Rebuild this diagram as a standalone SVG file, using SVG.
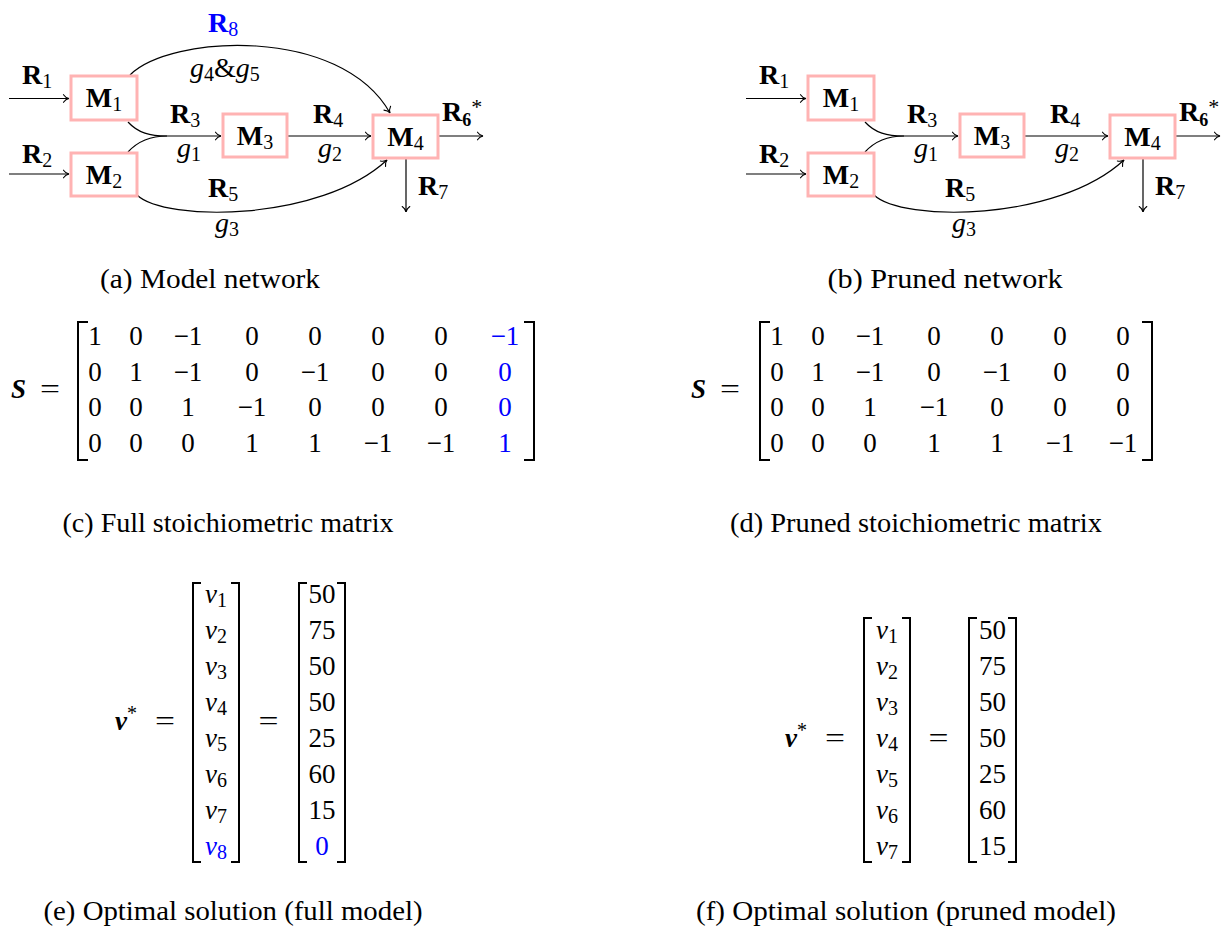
<svg xmlns="http://www.w3.org/2000/svg" width="1225" height="928" viewBox="0 0 1225 928">
<style>
text{font-family:"Liberation Serif","DejaVu Serif",serif;font-size:27px;fill:#000}
.nl{font-size:28px}
.b{font-weight:bold}
.i{font-style:italic}
.bi{font-weight:bold;font-style:italic}
.sub{font-size:20px;font-weight:normal;font-style:normal}
.blue{fill:#0000ff}
.box{fill:#fff;stroke:#ffb3b3;stroke-width:3}
.edge{fill:none;stroke:#000;stroke-width:1.2}
.brk{fill:none;stroke:#000;stroke-width:2}
.m{text-anchor:middle}
</style>
<defs>
<marker id="arr" viewBox="-7 -5 8 10" markerWidth="8" markerHeight="10" refX="0" refY="0" orient="auto" markerUnits="userSpaceOnUse">
<path d="M-5.5,-3.8 C-4,-1.6 -1.5,-0.3 0,0 C-1.5,0.3 -4,1.6 -5.5,3.8" fill="none" stroke="#000" stroke-width="1.1" stroke-linecap="round"/>
</marker>
</defs>

<!-- (a) Model network -->
<g id="net-a">
<g id="a-edges">
<path class="edge" d="M9,98.5 H69" marker-end="url(#arr)"/>
<path class="edge" d="M9,174 H69" marker-end="url(#arr)"/>
<path class="edge" d="M128,122 C138,133 150,136 167,136 L221,136" marker-end="url(#arr)"/>
<path class="edge" d="M128,152 C138,141 150,136 167,136"/>
<path class="edge" d="M288,136 H371" marker-end="url(#arr)"/>
<path class="edge" d="M439,136 H483" marker-end="url(#arr)"/>
<path class="edge" d="M406,159 V212" marker-end="url(#arr)"/>
<path class="edge" d="M137,195 C165,222 320,222 387,160" marker-end="url(#arr)"/>
<path class="edge" d="M130,75 C170,35 340,25 390,113" marker-end="url(#arr)"/>
</g>
<g id="a-M1"><rect class="box" x="71" y="76" width="66" height="44"/><text class="nl m" x="104" y="107"><tspan class="b">M</tspan><tspan class="sub" dy="4">1</tspan></text></g>
<g id="a-M2"><rect class="box" x="71" y="153" width="66" height="43"/><text class="nl m" x="104" y="184"><tspan class="b">M</tspan><tspan class="sub" dy="4">2</tspan></text></g>
<g id="a-M3"><rect class="box" x="223" y="114" width="64" height="43"/><text class="nl m" x="255" y="145"><tspan class="b">M</tspan><tspan class="sub" dy="4">3</tspan></text></g>
<g id="a-M4"><rect class="box" x="373" y="115" width="65" height="43"/><text class="nl m" x="405.5" y="146"><tspan class="b">M</tspan><tspan class="sub" dy="4">4</tspan></text></g>
<g id="a-labels">
<text class="nl" x="22" y="84"><tspan class="b">R</tspan><tspan class="sub" dy="4">1</tspan></text>
<text class="nl" x="22" y="163"><tspan class="b">R</tspan><tspan class="sub" dy="4">2</tspan></text>
<text class="nl" x="170" y="123"><tspan class="b">R</tspan><tspan class="sub" dy="4">3</tspan></text>
<text class="nl i" x="177" y="157">g<tspan class="sub" dy="4">1</tspan></text>
<text class="nl" x="313" y="123"><tspan class="b">R</tspan><tspan class="sub" dy="4">4</tspan></text>
<text class="nl i" x="318" y="157">g<tspan class="sub" dy="4">2</tspan></text>
<text class="nl" x="208" y="197"><tspan class="b">R</tspan><tspan class="sub" dy="4">5</tspan></text>
<text class="nl i" x="215" y="232">g<tspan class="sub" dy="4">3</tspan></text>
<text class="nl blue" x="208" y="32"><tspan class="b">R</tspan><tspan class="sub" dy="4">8</tspan></text>
<text class="nl i" x="190" y="77">g<tspan class="sub" dy="4">4</tspan><tspan font-style="normal" dy="-4">&amp;</tspan>g<tspan class="sub" dy="4">5</tspan></text>
<text class="nl" x="442" y="121"><tspan class="b">R</tspan><tspan font-size="18" font-weight="bold" dy="5">6</tspan><tspan font-size="22" dy="-12">*</tspan></text>
<text class="nl" x="418" y="195"><tspan class="b">R</tspan><tspan class="sub" dy="4">7</tspan></text>
</g>
<text class="m" x="210" y="288" textLength="220" lengthAdjust="spacingAndGlyphs">(a) Model network</text>
</g>

<!-- (b) Pruned network -->
<g id="net-b" transform="translate(737,0)">
<g id="b-edges">
<path class="edge" d="M9,98.5 H69" marker-end="url(#arr)"/>
<path class="edge" d="M9,174 H69" marker-end="url(#arr)"/>
<path class="edge" d="M128,122 C138,133 150,136 167,136 L221,136" marker-end="url(#arr)"/>
<path class="edge" d="M128,152 C138,141 150,136 167,136"/>
<path class="edge" d="M288,136 H371" marker-end="url(#arr)"/>
<path class="edge" d="M439,136 H483" marker-end="url(#arr)"/>
<path class="edge" d="M406,159 V212" marker-end="url(#arr)"/>
<path class="edge" d="M137,195 C165,222 320,222 387,160" marker-end="url(#arr)"/>
</g>
<g id="b-M1"><rect class="box" x="71" y="76" width="66" height="44"/><text class="nl m" x="104" y="107"><tspan class="b">M</tspan><tspan class="sub" dy="4">1</tspan></text></g>
<g id="b-M2"><rect class="box" x="71" y="153" width="66" height="43"/><text class="nl m" x="104" y="184"><tspan class="b">M</tspan><tspan class="sub" dy="4">2</tspan></text></g>
<g id="b-M3"><rect class="box" x="223" y="114" width="64" height="43"/><text class="nl m" x="255" y="145"><tspan class="b">M</tspan><tspan class="sub" dy="4">3</tspan></text></g>
<g id="b-M4"><rect class="box" x="373" y="115" width="65" height="43"/><text class="nl m" x="405.5" y="146"><tspan class="b">M</tspan><tspan class="sub" dy="4">4</tspan></text></g>
<g id="b-labels">
<text class="nl" x="22" y="84"><tspan class="b">R</tspan><tspan class="sub" dy="4">1</tspan></text>
<text class="nl" x="22" y="163"><tspan class="b">R</tspan><tspan class="sub" dy="4">2</tspan></text>
<text class="nl" x="170" y="123"><tspan class="b">R</tspan><tspan class="sub" dy="4">3</tspan></text>
<text class="nl i" x="177" y="157">g<tspan class="sub" dy="4">1</tspan></text>
<text class="nl" x="313" y="123"><tspan class="b">R</tspan><tspan class="sub" dy="4">4</tspan></text>
<text class="nl i" x="318" y="157">g<tspan class="sub" dy="4">2</tspan></text>
<text class="nl" x="208" y="197"><tspan class="b">R</tspan><tspan class="sub" dy="4">5</tspan></text>
<text class="nl i" x="215" y="232">g<tspan class="sub" dy="4">3</tspan></text>
<text class="nl" x="442" y="121"><tspan class="b">R</tspan><tspan font-size="18" font-weight="bold" dy="5">6</tspan><tspan font-size="22" dy="-12">*</tspan></text>
<text class="nl" x="418" y="195"><tspan class="b">R</tspan><tspan class="sub" dy="4">7</tspan></text>
</g>
<text class="m" x="208" y="288" textLength="235" lengthAdjust="spacingAndGlyphs">(b) Pruned network</text>
</g>

<!-- (c) Full stoichiometric matrix -->
<g id="mat-c">
<text class="bi" x="11" y="398" font-size="29">S</text>
<text class="m" x="50" y="398" textLength="20" lengthAdjust="spacingAndGlyphs">=</text>
<path class="brk" d="M88,322 H78 V460 H88"/>
<path class="brk" d="M524,322 H534 V460 H524"/>
<g>
<text class="m" x="95" y="345">1</text><text class="m" x="136" y="345">0</text><text class="m" x="188" y="345">−1</text><text class="m" x="252" y="345">0</text><text class="m" x="315" y="345">0</text><text class="m" x="378" y="345">0</text><text class="m" x="441" y="345">0</text><text class="m blue" x="505" y="345">−1</text>
<text class="m" x="95" y="381">0</text><text class="m" x="136" y="381">1</text><text class="m" x="188" y="381">−1</text><text class="m" x="252" y="381">0</text><text class="m" x="315" y="381">−1</text><text class="m" x="378" y="381">0</text><text class="m" x="441" y="381">0</text><text class="m blue" x="505" y="381">0</text>
<text class="m" x="95" y="416">0</text><text class="m" x="136" y="416">0</text><text class="m" x="188" y="416">1</text><text class="m" x="252" y="416">−1</text><text class="m" x="315" y="416">0</text><text class="m" x="378" y="416">0</text><text class="m" x="441" y="416">0</text><text class="m blue" x="505" y="416">0</text>
<text class="m" x="95" y="452">0</text><text class="m" x="136" y="452">0</text><text class="m" x="188" y="452">0</text><text class="m" x="252" y="452">1</text><text class="m" x="315" y="452">1</text><text class="m" x="378" y="452">−1</text><text class="m" x="441" y="452">−1</text><text class="m blue" x="505" y="452">1</text>
</g>
<text class="m" x="228" y="532" textLength="331" lengthAdjust="spacingAndGlyphs">(c) Full stoichiometric matrix</text>
</g>

<!-- (d) Pruned stoichiometric matrix -->
<g id="mat-d">
<text class="bi" x="691" y="398" font-size="29">S</text>
<text class="m" x="730" y="398" textLength="20" lengthAdjust="spacingAndGlyphs">=</text>
<path class="brk" d="M770,322 H760 V460 H770"/>
<path class="brk" d="M1142,322 H1152 V460 H1142"/>
<g>
<text class="m" x="777" y="345">1</text><text class="m" x="818" y="345">0</text><text class="m" x="870" y="345">−1</text><text class="m" x="934" y="345">0</text><text class="m" x="997" y="345">0</text><text class="m" x="1060" y="345">0</text><text class="m" x="1123" y="345">0</text>
<text class="m" x="777" y="381">0</text><text class="m" x="818" y="381">1</text><text class="m" x="870" y="381">−1</text><text class="m" x="934" y="381">0</text><text class="m" x="997" y="381">−1</text><text class="m" x="1060" y="381">0</text><text class="m" x="1123" y="381">0</text>
<text class="m" x="777" y="416">0</text><text class="m" x="818" y="416">0</text><text class="m" x="870" y="416">1</text><text class="m" x="934" y="416">−1</text><text class="m" x="997" y="416">0</text><text class="m" x="1060" y="416">0</text><text class="m" x="1123" y="416">0</text>
<text class="m" x="777" y="452">0</text><text class="m" x="818" y="452">0</text><text class="m" x="870" y="452">0</text><text class="m" x="934" y="452">1</text><text class="m" x="997" y="452">1</text><text class="m" x="1060" y="452">−1</text><text class="m" x="1123" y="452">−1</text>
</g>
<text class="m" x="916" y="532" textLength="372" lengthAdjust="spacingAndGlyphs">(d) Pruned stoichiometric matrix</text>
</g>

<!-- (e) Optimal solution (full model) -->
<g id="vec-e">
<text x="115" y="730" font-size="29"><tspan class="bi">v</tspan><tspan font-size="20" dy="-10">*</tspan></text>
<text class="m" x="165" y="730" textLength="20" lengthAdjust="spacingAndGlyphs">=</text>
<path class="brk" d="M201,583 H193 V862 H201"/>
<path class="brk" d="M231,583 H239 V862 H231"/>
<text class="m i" x="216" y="603">v<tspan class="sub" dy="4">1</tspan></text>
<text class="m i" x="216" y="639">v<tspan class="sub" dy="4">2</tspan></text>
<text class="m i" x="216" y="675">v<tspan class="sub" dy="4">3</tspan></text>
<text class="m i" x="216" y="711">v<tspan class="sub" dy="4">4</tspan></text>
<text class="m i" x="216" y="747">v<tspan class="sub" dy="4">5</tspan></text>
<text class="m i" x="216" y="783">v<tspan class="sub" dy="4">6</tspan></text>
<text class="m i" x="216" y="819">v<tspan class="sub" dy="4">7</tspan></text>
<text class="m i blue" x="216" y="855">v<tspan class="sub" dy="4">8</tspan></text>
<text class="m" x="268.5" y="730" textLength="20" lengthAdjust="spacingAndGlyphs">=</text>
<path class="brk" d="M307,583 H299 V862 H307"/>
<path class="brk" d="M337,583 H345 V862 H337"/>
<text class="m" x="322" y="603">50</text>
<text class="m" x="322" y="639">75</text>
<text class="m" x="322" y="675">50</text>
<text class="m" x="322" y="711">50</text>
<text class="m" x="322" y="747">25</text>
<text class="m" x="322" y="783">60</text>
<text class="m" x="322" y="819">15</text>
<text class="m blue" x="322" y="855">0</text>
<text class="m" x="233" y="920" textLength="379" lengthAdjust="spacingAndGlyphs">(e) Optimal solution (full model)</text>
</g>

<!-- (f) Optimal solution (pruned model) -->
<g id="vec-f">
<text x="785" y="747" font-size="29"><tspan class="bi">v</tspan><tspan font-size="20" dy="-10">*</tspan></text>
<text class="m" x="835" y="747" textLength="20" lengthAdjust="spacingAndGlyphs">=</text>
<path class="brk" d="M872,618 H864 V862 H872"/>
<path class="brk" d="M902,618 H910 V862 H902"/>
<text class="m i" x="887" y="639">v<tspan class="sub" dy="4">1</tspan></text>
<text class="m i" x="887" y="675">v<tspan class="sub" dy="4">2</tspan></text>
<text class="m i" x="887" y="711">v<tspan class="sub" dy="4">3</tspan></text>
<text class="m i" x="887" y="747">v<tspan class="sub" dy="4">4</tspan></text>
<text class="m i" x="887" y="783">v<tspan class="sub" dy="4">5</tspan></text>
<text class="m i" x="887" y="819">v<tspan class="sub" dy="4">6</tspan></text>
<text class="m i" x="887" y="855">v<tspan class="sub" dy="4">7</tspan></text>
<text class="m" x="938.5" y="747" textLength="20" lengthAdjust="spacingAndGlyphs">=</text>
<path class="brk" d="M977,618 H969 V862 H977"/>
<path class="brk" d="M1008,618 H1016 V862 H1008"/>
<text class="m" x="992.5" y="639">50</text>
<text class="m" x="992.5" y="675">75</text>
<text class="m" x="992.5" y="711">50</text>
<text class="m" x="992.5" y="747">50</text>
<text class="m" x="992.5" y="783">25</text>
<text class="m" x="992.5" y="819">60</text>
<text class="m" x="992.5" y="855">15</text>
<text class="m" x="906" y="920" textLength="420" lengthAdjust="spacingAndGlyphs">(f) Optimal solution (pruned model)</text>
</g>
</svg>
